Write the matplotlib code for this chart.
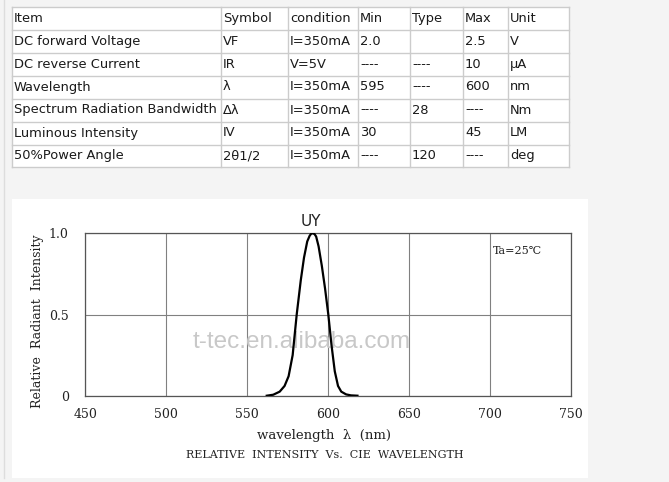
import matplotlib.pyplot as plt
from matplotlib.patches import Rectangle

# ---- table data ----
columns = ["Item", "Symbol", "condition", "Min", "Type", "Max", "Unit"]
items = ["DC forward Voltage", "DC reverse Current", "Wavelength",
         "Spectrum Radiation Bandwidth", "Luminous Intensity", "50%Power Angle"]
symbols = ["VF", "IR", "λ", "Δλ", "IV", "2θ1/2"]
conditions = ["I=350mA", "V=5V", "I=350mA", "I=350mA", "I=350mA", "I=350mA"]
mins = ["2.0", "----", "595", "----", "30", "----"]
types = ["", "----", "----", "28", "", "120"]
maxs = ["2.5", "10", "600", "----", "45", "----"]
units = ["V", "μA", "nm", "Nm", "LM", "deg"]

# ---- spectrum data ----
wavelength = [562, 566, 570, 573, 575.5, 578, 580.5, 583, 585, 587, 588.5, 589.5,
              590.5, 591.5, 592.5, 594, 596, 598, 600, 602, 604, 606, 608, 611,
              614, 618]
intensity = [0.0, 0.006, 0.025, 0.06, 0.12, 0.25, 0.5, 0.71, 0.85, 0.95, 0.985,
             0.998, 1.0, 0.995, 0.98, 0.92, 0.8, 0.66, 0.5, 0.31, 0.15, 0.06,
             0.025, 0.008, 0.002, 0.0]
xticks = [450, 500, 550, 600, 650, 700, 750]
yticks = [0, 0.5, 1.0]
ytick_labels = ["0", "0.5", "1.0"]

W, H = 669, 482
fig = plt.figure(figsize=(W / 100, H / 100), dpi=100, facecolor="#f4f4f4")

# background layer in pixel coordinates
bg = fig.add_axes([0, 0, 1, 1])
bg.set_xlim(0, W)
bg.set_ylim(H, 0)
bg.axis("off")
bg.plot([3.5, 3.5], [0, 478], color="#dddddd", lw=1)

# table
col_edges = [12, 221, 288, 358, 410, 463, 508, 569]
row_edges = [7, 30, 53, 75.5, 98.5, 121.5, 144.5, 167]
bg.add_patch(Rectangle((col_edges[0], row_edges[0]), col_edges[-1] - col_edges[0],
                       row_edges[-1] - row_edges[0], facecolor="white", edgecolor="none"))
for yv in row_edges:
    bg.plot([col_edges[0], col_edges[-1]], [yv, yv], color="#cccccc", lw=1)
for xv in col_edges:
    bg.plot([xv, xv], [row_edges[0], row_edges[-1]], color="#cccccc", lw=1)

rows = [columns] + [list(r) for r in zip(items, symbols, conditions, mins, types, maxs, units)]
for i, row in enumerate(rows):
    yc = (row_edges[i] + row_edges[i + 1]) / 2
    for j, txt in enumerate(row):
        bg.text(col_edges[j] + 2, yc, txt, ha="left", va="center",
                fontsize=9.4, color="#1a1a1a", family="DejaVu Sans")

# chart panel
bg.add_patch(Rectangle((12, 199), 576, 279, facecolor="white", edgecolor="none"))

# chart axes
left, right, top, bottom = 85.3, 571.3, 233.3, 395.7
ax = fig.add_axes([left / W, 1 - bottom / H, (right - left) / W, (bottom - top) / H])
ax.set_facecolor("white")
ax.plot(wavelength, intensity, color="black", lw=1.6, zorder=4)
ax.set_xlim(450, 750)
ax.set_ylim(0, 1)
ax.set_xticks(xticks)
ax.set_yticks(yticks)
ax.set_yticklabels(ytick_labels)
ax.grid(True, color="#808080", lw=0.8)
for s in ax.spines.values():
    s.set_color("#555555")
    s.set_linewidth(0.9)
ax.tick_params(length=0, labelsize=9, colors="#222222")
ax.tick_params(axis="x", pad=9)
ax.tick_params(axis="y", pad=12)
for lab in ax.get_xticklabels() + ax.get_yticklabels():
    lab.set_family("DejaVu Serif")

ax.set_ylabel("Relative  Radiant  Intensity", family="DejaVu Serif", fontsize=9,
              color="#222222", va="center")
ax.yaxis.set_label_coords((37.5 - left) / (right - left), 0.46)
ax.set_xlabel("wavelength  λ  (nm)", family="DejaVu Serif", fontsize=9.5,
              color="#222222", va="center")
ax.xaxis.set_label_coords((324 - left) / (right - left), (bottom - 435) / (bottom - top))

ax.text((311 - left) / (right - left), (bottom - 221) / (bottom - top), "UY",
        transform=ax.transAxes, ha="center", va="center", fontsize=11,
        color="#222222", clip_on=False)
ax.text((493 - left) / (right - left), (bottom - 251) / (bottom - top), "Ta=25℃",
        transform=ax.transAxes, ha="left", va="center", fontsize=8,
        family=["DejaVu Serif", "DejaVu Sans"], color="#222222")
ax.text((302 - left) / (right - left), (bottom - 342) / (bottom - top),
        "t-tec.en.alibaba.com", transform=ax.transAxes, ha="center", va="center",
        fontsize=17.5, family="Liberation Sans", color="#c8c8c8", zorder=3)

fig.text(325 / W, 1 - 455 / H, "RELATIVE  INTENSITY  Vs.  CIE  WAVELENGTH",
         ha="center", va="center", fontsize=8, family="DejaVu Serif", color="#222222")

fig.savefig("out.png", dpi=100, facecolor=fig.get_facecolor())
